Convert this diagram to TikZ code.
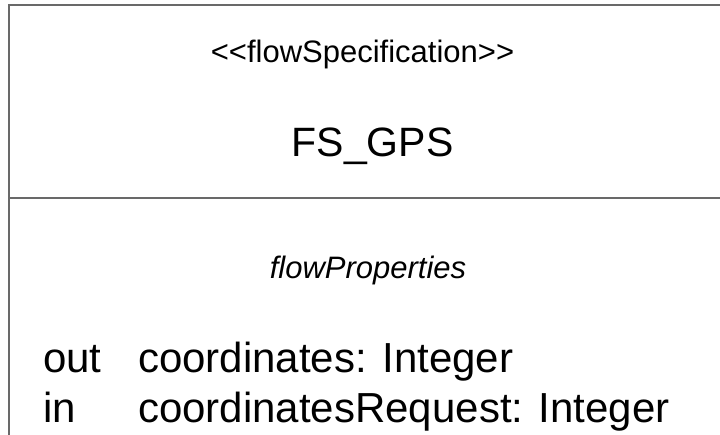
\documentclass[tikz,border=0pt]{standalone}
\usepackage{fontspec}
\setmainfont{Liberation Sans}
\definecolor{edgegray}{RGB}{105,105,105}
\tikzset{
  frame/.style={draw=edgegray, line width=2pt},
  label/.style={inner sep=0pt, anchor=base, font=\fontsize{31}{36}\selectfont},
  title/.style={inner sep=0pt, anchor=base, font=\fontsize{41}{46}\selectfont},
  member/.style={inner sep=0pt, anchor=base west, font=\fontsize{42}{48}\selectfont}
}
\begin{document}
\begin{tikzpicture}[x=1pt, y=-1pt]
  \useasboundingbox (0,0) rectangle (720,435);
  \clip (0,0) rectangle (720,435);
  % class box, running past the right and bottom edges
  \draw[frame] (8.7,5.5) rectangle (760,480);
  \draw[frame] (8.7,197.7) -- (760,197.7);
  % header compartment
  \node[label] (stereo) at (362.5,63) {{<}{<}flowSpecification{>}{>}};
  \node[title] (name) at (372.5,157) {FS\_GPS};
  % flow properties compartment
  \node[label, font=\fontsize{31}{36}\selectfont\itshape] (section) at (368,279) {flowProperties};
  \node[member] (dir1) at (43,373) {out};
  \node[member] (prop1) at (138,373) {coordinates: Integer};
  \node[member] (dir2) at (43,422) {in};
  \node[member] (prop2) at (138,422) {coordinatesRequest: Integer};
\end{tikzpicture}
\end{document}
